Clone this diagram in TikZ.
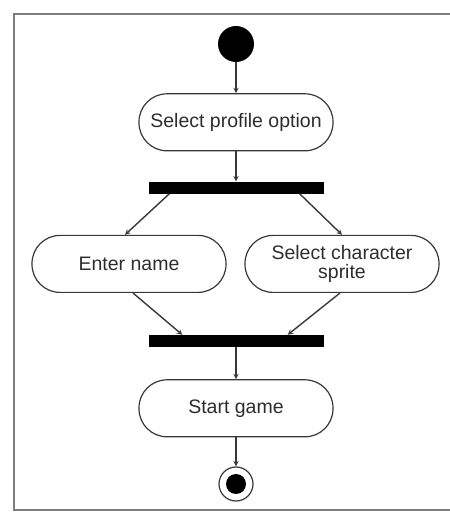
\documentclass[tikz,border=0pt]{standalone}
\usepackage{fontspec}
\setsansfont{Liberation Sans}
\usepackage{tikz}
\usetikzlibrary{arrows, positioning, calc}
\definecolor{lineGray}{RGB}{55, 55, 55}
\definecolor{frameGray}{RGB}{125, 125, 125}
\definecolor{textGray}{RGB}{45, 45, 45}

\begin{document}
\begin{tikzpicture}[x=1pt, y=1pt, node distance=31pt,
      act/.style={rectangle, draw=lineGray, line width=1.2pt, rounded corners=28pt, minimum width=194pt, minimum height=57pt, align=center, text=textGray, font=\sffamily\fontsize{19.5}{19}\selectfont},
      bar/.style={rectangle, fill=black, minimum width=175pt, minimum height=12pt, inner sep=0pt},
      arrow/.style={line width=1.4pt, lineGray, ->, >=stealth}]

      \useasboundingbox (0,0) rectangle (450,512);
      \draw[frameGray, line width=2pt] (460,498) -- (14,498) -- (14,2) -- (460,2);

      \node[circle, fill=black, minimum size=36pt, inner sep=0pt] (start) at (236,468) {};
      \node[act, below=31pt of start] (profile) {Select profile option};
      \node[bar, below=30pt of profile] (fork) {};

      \node[act, below=41pt of fork, xshift=-107pt] (name) {Enter name};
      \node[act, below=41pt of fork, xshift=106pt] (sprite) {Select character\\sprite};

      \node[bar, below=141pt of fork] (join) {};
      \node[act, below=32pt of join] (game) {Start game};

      \node[circle, draw=lineGray, line width=1.2pt, minimum size=34pt, inner sep=0pt, below=29pt of game] (stop) {};
      \node[circle, fill=black, minimum size=20pt, inner sep=0pt] (stopdot) at (stop) {};

      \draw[arrow] (start) -- (profile);
      \draw[arrow] (profile) -- (fork);
      \draw[arrow] ($(fork.south west)+(21,0)$) -- ($(name.north)+(-4,0)$);
      \draw[arrow] ($(fork.south east)+(-24,0)$) -- (sprite.north);
      \draw[arrow] ($(name.south)+(4,0)$) -- ($(join.north west)+(34,0)$);
      \draw[arrow] ($(sprite.south)+(-2,0)$) -- ($(join.north east)+(-36,0)$);
      \draw[arrow] (join) -- (game);
      \draw[arrow] (game) -- (stop);
  \end{tikzpicture}
\end{document}
